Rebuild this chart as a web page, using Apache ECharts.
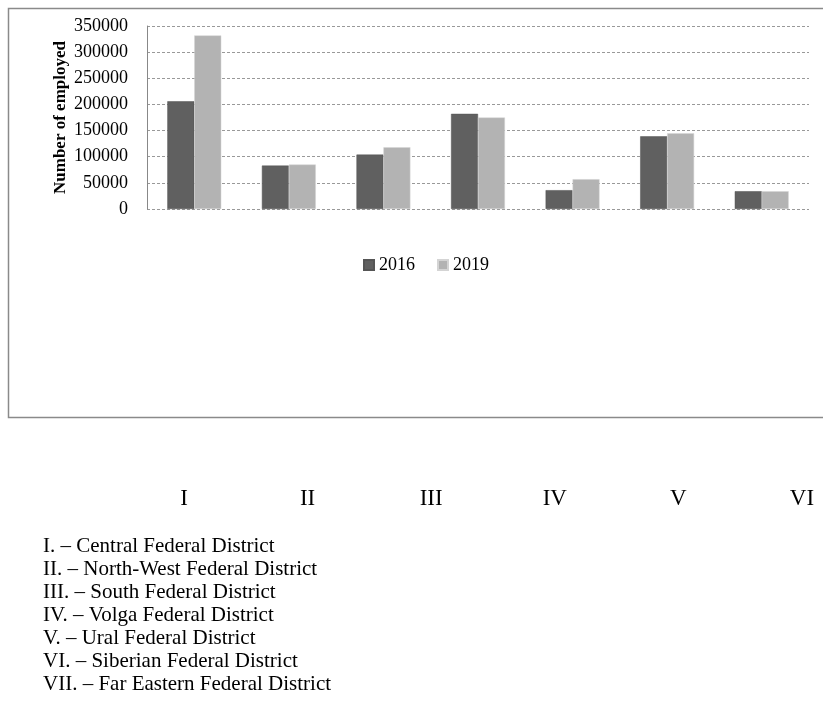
<!DOCTYPE html>
<html>
<head>
<meta charset="utf-8">
<script src="https://cdn.jsdelivr.net/npm/echarts@6/dist/echarts.min.js"></script>
<style>
html,body{margin:0;padding:0;background:#fff;}
#c{width:823px;height:704px;}
</style>
</head>
<body>
<div id="c"></div>
<script>
const categories = ['I', 'II', 'III', 'IV', 'V', 'VI', 'VII'];
const values2016 = [206000, 83000, 104000, 182000, 36000, 139000, 34000];
const values2019 = [332000, 85000, 118000, 175000, 57000, 145000, 34000];
const seriesNames = ['2016', '2019'];
const yTicks = { min: 0, max: 350000, interval: 50000 };
const yAxisTitle = 'Number of employed';
const romanLabels = ['I', 'II', 'III', 'IV', 'V', 'VI'];
const districtNotes = [
  'I. \u2013 Central Federal District',
  'II. \u2013 North-West Federal District',
  'III. \u2013 South Federal District',
  'IV. \u2013 Volga Federal District',
  'V. \u2013 Ural Federal District',
  'VI. \u2013 Siberian Federal District',
  'VII. \u2013 Far Eastern Federal District'
];

const FONT = '"Liberation Serif", "Times New Roman", serif';
const chart = echarts.init(document.getElementById('c'));

const graphics = [{
  type: 'rect',
  shape: { x: 8.5, y: 8.5, width: 830, height: 409 },
  style: { fill: 'none', stroke: '#8a8a8a', lineWidth: 1.5 },
  z: 0
}];
districtNotes.forEach((t, i) => {
  graphics.push({
    type: 'text',
    left: 43,
    top: 548 + i * 23 - 12,
    style: { text: t, font: '21px ' + FONT, fill: '#000' }
  });
});

chart.setOption({
  animation: false,
  backgroundColor: '#fff',
  color: ['#606060', '#b3b3b3'],
  legend: {
    data: seriesNames,
    left: 358,
    top: 251,
    itemWidth: 10,
    itemHeight: 10,
    itemGap: 22,
    icon: 'rect',
    textStyle: { fontFamily: FONT, fontSize: 18, color: '#000' }
  },
  grid: [
    { left: 147, top: 26, width: 662, height: 183 },
    { left: 184, top: 478, width: 618, height: 1 }
  ],
  xAxis: [{
    type: 'category',
    gridIndex: 0,
    data: categories,
    axisLine: { show: false },
    axisTick: { show: false },
    axisLabel: { show: false }
  }, {
    type: 'category',
    gridIndex: 1,
    data: romanLabels,
    boundaryGap: false,
    axisLine: { show: false },
    axisTick: { show: false },
    axisLabel: { interval: 0, margin: 8, fontFamily: FONT, fontSize: 23, color: '#000' }
  }],
  yAxis: [{
    type: 'value',
    gridIndex: 0,
    min: yTicks.min,
    max: yTicks.max,
    interval: yTicks.interval,
    name: yAxisTitle,
    nameLocation: 'middle',
    nameGap: 78,
    nameMoveOverlap: false,
    nameRotate: 90,
    nameTextStyle: { fontFamily: FONT, fontSize: 17, fontWeight: 'bold', color: '#000' },
    axisLine: { show: true, lineStyle: { color: '#888', width: 1 } },
    axisTick: { show: false },
    axisLabel: { margin: 19, fontFamily: FONT, fontSize: 18, color: '#000', formatter: v => String(v) },
    splitLine: { show: true, lineStyle: { color: '#999', type: [3, 2], width: 1 } }
  }, {
    type: 'value',
    gridIndex: 1,
    show: false
  }],
  series: [{
    name: seriesNames[0],
    type: 'bar',
    xAxisIndex: 0,
    yAxisIndex: 0,
    data: values2016,
    barGap: '0%',
    barCategoryGap: '43%',
    itemStyle: { color: '#606060', borderColor: '#555', borderWidth: 0.5 }
  }, {
    name: seriesNames[1],
    type: 'bar',
    xAxisIndex: 0,
    yAxisIndex: 0,
    data: values2019,
    barGap: '0%',
    barCategoryGap: '43%',
    itemStyle: { color: '#b3b3b3', borderColor: '#d4d4d4', borderWidth: 0.5 }
  }],
  graphic: graphics
});
</script>
</body>
</html>
